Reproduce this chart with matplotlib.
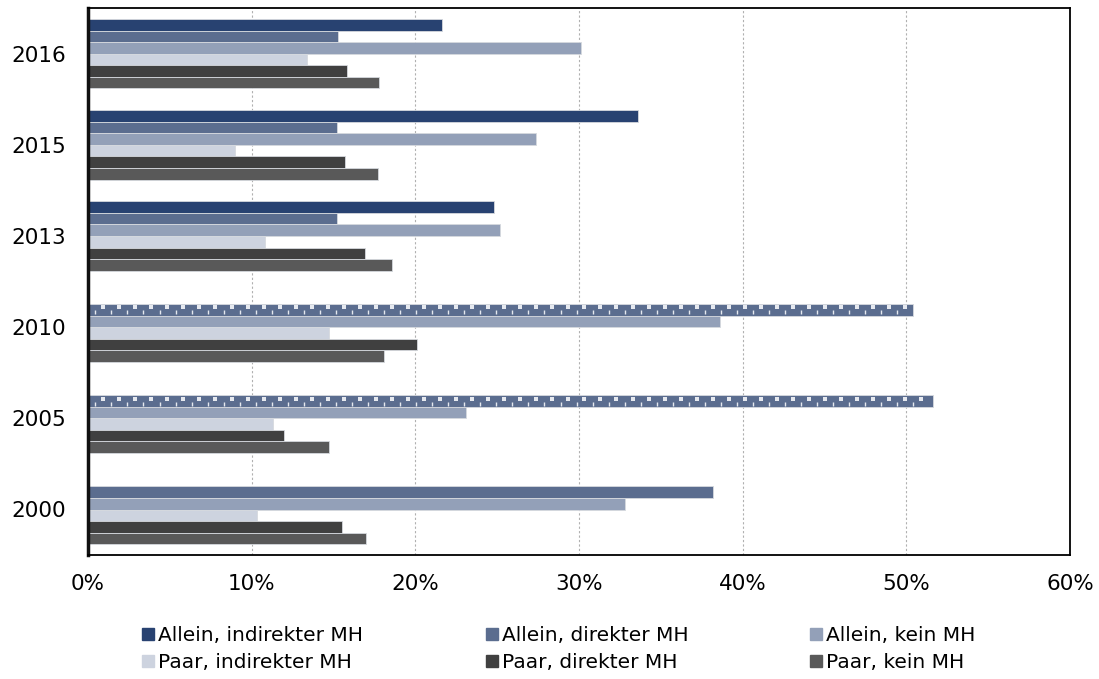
import numpy as np
import matplotlib
matplotlib.use("Agg")
import matplotlib.pyplot as plt
from matplotlib.lines import Line2D

years = ["2000", "2005", "2010", "2013", "2015", "2016"]
series_names = ["Allein, indirekter MH", "Allein, direkter MH", "Allein, kein MH",
                "Paar, indirekter MH", "Paar, direkter MH", "Paar, kein MH"]
nan = np.nan
allein_indirekt = [nan, nan, nan, 24.8, 33.6, 21.6]
allein_direkt = [38.2, nan, nan, 15.2, 15.2, 15.3]
allein_mh_gesamt = [nan, 51.6, 50.4, nan, nan, nan]   # dotted bars (2005, 2010)
allein_kein = [32.8, 23.1, 38.6, 25.2, 27.4, 30.1]
paar_indirekt = [10.3, 11.3, 14.7, 10.8, 9.0, 13.4]
paar_direkt = [15.5, 12.0, 20.1, 16.9, 15.7, 15.8]
paar_kein = [17.0, 14.7, 18.1, 18.6, 17.7, 17.8]
x_ticks = [0, 10, 20, 30, 40, 50, 60]

colors = ["#284271", "#5b6d8f", "#93a0b8", "#cdd3df", "#404040", "#595959"]

plt.rcParams['font.family'] = ['DejaVu Sans']
fig = plt.figure(figsize=(10.99, 6.79), dpi=100)
ax = fig.add_axes([88/1099, 1-555/679, (1070-88)/1099, (555-8)/679])

y = np.arange(len(years))
h = 0.127
top = 0.38
data = [allein_indirekt, allein_direkt, allein_kein, paar_indirekt, paar_direkt, paar_kein]
for k, vals in enumerate(data):
    pos = y + top - (k + 0.5) * h
    ax.barh(pos, vals, height=h, color=colors[k], edgecolor="#d6d9de", linewidth=0.6, zorder=3)

# dotted combined bars in slot 1 (pattern fill drawn as a dot texture)
pos1 = y + top - 1.5 * h
ax.barh(pos1, allein_mh_gesamt, height=h, color=colors[1], edgecolor="#d6d9de",
        linewidth=0.6, zorder=3)
step = 0.98
for p, v in zip(pos1, allein_mh_gesamt):
    if np.isnan(v):
        continue
    xa = np.arange(0.93, v - 0.2, step)
    xb = np.arange(0.45, v - 0.2, step)
    ax.scatter(xa, np.full_like(xa, p + 0.027), s=5, marker='s', color="#e6e9ef",
               linewidths=0, zorder=4)
    ax.scatter(xb, np.full_like(xb, p - 0.029), s=6, marker='|', color="#e6e9ef",
               linewidths=1.0, zorder=4)

ax.set_xlim(0, 60)
ax.set_ylim(-0.5, len(years) - 0.5)
ax.set_xticks(x_ticks)
ax.set_xticklabels([f"{t}%" for t in x_ticks], fontsize=15.5)
ax.set_yticks(y)
ax.set_yticklabels(years, fontsize=15.5)
ax.tick_params(axis='both', length=0)
ax.tick_params(axis='x', pad=14)
ax.tick_params(axis='y', pad=16)
ax.grid(axis='x', color="#b0b0b0", linestyle=(0, (2, 2)), linewidth=0.8, zorder=0)
ax.set_axisbelow(True)
for side in ["top", "right", "bottom"]:
    ax.spines[side].set_color("black")
    ax.spines[side].set_linewidth(1.3)
ax.spines["left"].set_linewidth(2.5)
ax.spines["left"].set_color("#111111")
for s in ax.spines.values():
    s.set_zorder(6)

# legend: three columns placed individually
col_x = [142, 486, 810]
for c in range(3):
    handles = []
    for r in range(2):
        idx = r * 3 + c
        handles.append(Line2D([], [], marker='s', linestyle='none', markersize=9,
                              markerfacecolor=colors[idx], markeredgecolor=colors[idx],
                              label=series_names[idx]))
    fig.legend(handles=handles, loc='upper left',
               bbox_to_anchor=(col_x[c]/1099, 1-626/679), frameon=False,
               fontsize=14.5, handlelength=0.6, handletextpad=0.2,
               borderpad=0, borderaxespad=0, labelspacing=0.4)

fig.savefig("out.png", dpi=100)
